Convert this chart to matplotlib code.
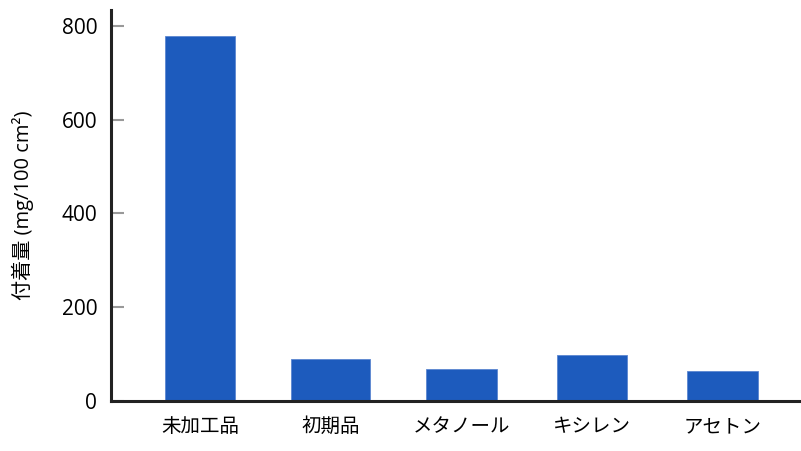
import matplotlib.pyplot as plt
import numpy as np

plt.rcParams['font.family'] = ['Open Sans', 'Noto Sans CJK JP', 'DejaVu Sans']

categories = ['未加工品', '初期品', 'メタノール', 'キシレン', 'アセトン']
values = [778, 89, 69, 98, 63]
yticks = [0, 200, 400, 600, 800]
ylabel = '付着量 (mg/100 cm²)'

fig = plt.figure(figsize=(8.01, 4.51), dpi=100)
ax = fig.add_axes([0.1386, 0.111, 0.8614, 0.867])

x = np.arange(len(categories))
widths = [0.54, 0.6, 0.54, 0.54, 0.54]
ax.bar(x, values, width=widths, color='#1d5bbd', edgecolor='#5b86d0', linewidth=0.6)

ax.set_xlim(-0.68, 4.6)
ax.set_ylim(0, 834)
ax.set_yticks(yticks)
ax.set_xticks(x)
ax.set_xticklabels(categories, fontsize=14, family=['Noto Sans CJK JP'])
ax.tick_params(axis='y', direction='in', length=9, width=1.5, color='#999999',
               labelsize=15, pad=10)
ax.tick_params(axis='x', length=0, pad=11)
ax.set_ylabel(ylabel, fontsize=14.5, labelpad=20)

for s in ['top', 'right']:
    ax.spines[s].set_visible(False)
for s in ['left', 'bottom']:
    ax.spines[s].set_linewidth(2.2)
    ax.spines[s].set_color('#222222')

fig.savefig('out.png', dpi=100)
